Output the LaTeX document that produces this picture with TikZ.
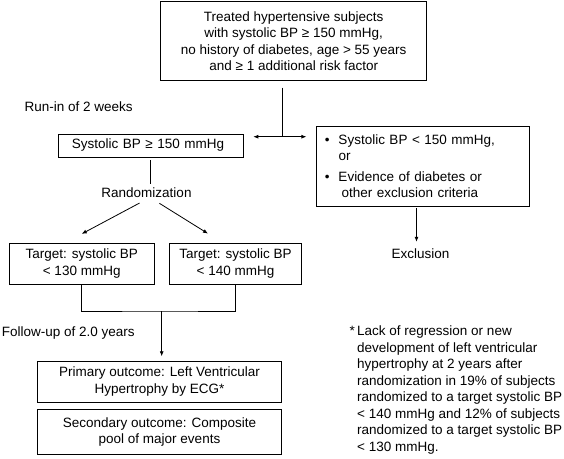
\documentclass[tikz,border=0pt]{standalone}
\usepackage{fontspec}
\setmainfont{Liberation Sans}
\usetikzlibrary{arrows.meta,positioning}

\begin{document}
\begin{tikzpicture}[
  x=1pt, y=-1pt,
  font=\fontsize{13.5}{16.5}\selectfont,
  box/.style = {draw, line width=0.8pt, align=center, inner sep=0pt},
  arr/.style = {-{Latex[length=5pt,width=4pt]}, line width=0.8pt},
  con/.style = {line width=0.8pt},
]
\useasboundingbox (0,0) rectangle (564,458);
\node[box, minimum width=266pt, minimum height=79pt] (top) at (293.7,41.2)
  {Treated hypertensive subjects\\ with systolic BP ≥ 150 mmHg,\\
   no history of diabetes, age > 55 years\\ and ≥ 1 additional risk factor};
\node[anchor=west, inner sep=0pt] (runin) at (24.5,107) {Run-in of 2 weeks};
\node[box, minimum width=185pt, minimum height=23pt, text width=157pt,
  inner xsep=14pt, align=left] (sbp) at (150.4,145.5) {Systolic BP ≥ 150 mmHg};
\node[box, minimum width=213pt, minimum height=80pt, text width=169pt,
  inner xsep=22pt, align=left] (excl) at (423,166)
  {\leavevmode\llap{\textbullet\hspace{9pt}}Systolic BP < 150 mmHg,\\ or\\[4pt]
   \leavevmode\llap{\textbullet\hspace{9pt}}Evidence of diabetes or\\
   \leavevmode\hspace{3pt}other exclusion criteria};
\node (rand) at (146.5,192.7) {Randomization};
\node[box, minimum width=144.7pt, minimum height=41pt] (tl) at (81.7,263.5)
  {Target: systolic BP\\ < 130 mmHg};
\node[box, minimum width=132.4pt, minimum height=41pt] (tr) at (235.5,263.5)
  {Target: systolic BP\\ < 140 mmHg};
\node (exc) at (420.5,253.3) {Exclusion};
\node[anchor=west, inner sep=0pt] (follow) at (1.7,333) {Follow-up of 2.0 years};
\node[box, minimum width=244.4pt, minimum height=41pt] (prim) at (159.5,381.5)
  {Primary outcome: Left Ventricular\\ Hypertrophy by ECG*};
\node[box, minimum width=244.4pt, minimum height=45pt, below=6.5pt of prim] (sec)
  {Secondary outcome: Composite\\ pool of major events};
\node[anchor=north west, inner sep=0pt, align=left] (note) at (357,326)
  {\llap{*\,}Lack of regression or new\\ development of left ventricular\\
   hypertrophy at 2 years after\\ randomization in 19\% of subjects\\
   randomized to a target systolic BP\\ < 140 mmHg and 12\% of subjects\\
   randomized to a target systolic BP\\ < 130 mmHg.};
% connectors
\coordinate (split) at (282.3,136.7);
\coordinate (mrg) at (161.7,311);
\coordinate (exarr) at ([xshift=-4pt]exc.north);
\draw[con, shorten <=6.5pt] (top.south -| split) -- (split);
\draw[arr, shorten >=10pt] (split) -- (sbp.east |- split);
\draw[arr, shorten >=9.7pt] (split) -- (excl.west |- split);
\draw[con, shorten <=3pt] (sbp.south) -- (sbp.south |- rand.north);
\draw[arr, shorten <=4pt] ([xshift=-3.5pt]rand.south) -- ([yshift=8.7pt]tl.north);
\draw[arr, shorten <=4pt] ([xshift=9.5pt]rand.south) -- ([shift={(-27.5pt,9pt)}]tr.north);
\draw[con] (tl.south) |- (mrg) -| (tr.south);
\draw[arr, shorten >=4.3pt] (mrg) -- (mrg |- prim.north);
\draw[arr, shorten <=2pt, shorten >=3pt] (excl.south -| exarr) -- (exarr);
\end{tikzpicture}
\end{document}
